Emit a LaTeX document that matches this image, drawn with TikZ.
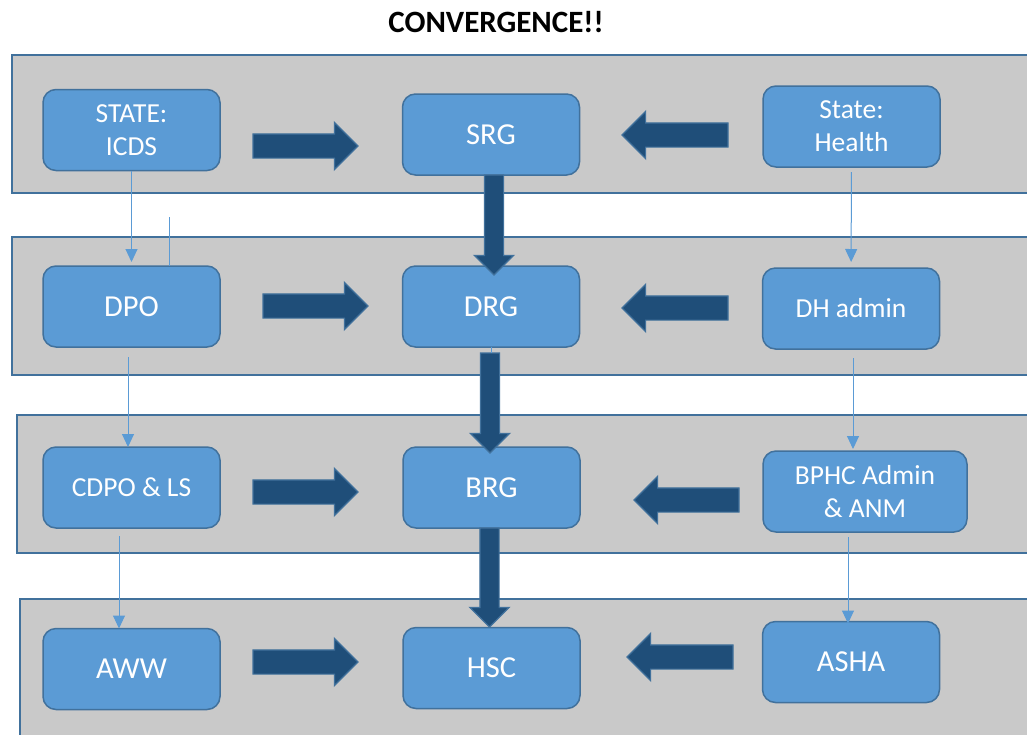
\documentclass[tikz,border=0pt]{standalone}
\usepackage{fontspec}
\setmainfont{Carlito}
\usetikzlibrary{shapes.arrows,arrows.meta}
\definecolor{bandgray}{HTML}{C9C9C9}
\definecolor{boxblue}{HTML}{5B9BD5}
\definecolor{boxedge}{HTML}{41719C}
\definecolor{arrowfill}{HTML}{1F4E79}
\definecolor{arrowedge}{HTML}{41719C}
\definecolor{lineblue}{HTML}{5B9BD5}
\begin{document}
\begin{tikzpicture}[x=1pt,y=-1pt]
	\tikzset{band/.style = {fill=bandgray,draw=boxedge,line width=2pt}}
	\tikzset{unit/.style = {shape=rectangle,rounded corners=13pt,draw=boxedge,line width=1.5pt,fill=boxblue,text=white,minimum width=177pt,minimum height=81pt,inner sep=0pt,outer sep=0pt,align=center,font=\fontsize{27.5}{33}\selectfont}}
	\tikzset{big/.style = {font=\fontsize{30.5}{34}\selectfont}}
	\tikzset{link/.style = {draw=lineblue,line width=1pt,-{Triangle[width=12pt,length=13pt]}}}
	\tikzset{flow/.style = {single arrow,draw=arrowedge,fill=arrowfill,line width=1.2pt,inner sep=11.5pt,minimum width=0pt,single arrow head extend=11.5pt,single arrow head indent=0pt,minimum height=105pt,outer sep=0pt,anchor=tail}}
	\tikzset{flowleft/.style = {flow,shape border rotate=180}}
	\tikzset{flowdown/.style = {flow,shape border rotate=270,inner sep=9pt,single arrow head extend=10pt,minimum height=100pt}}
	\clip (0,0) rectangle (1027,734);
	\fill[white] (0,0) rectangle (1027,734);
	\node[font=\fontsize{31}{36}\selectfont\bfseries] (title) at (496,22) {CONVERGENCE!!};
	% levels
	\draw[band] (12,55) rectangle (1040,193);
	\draw[band] (12,237) rectangle (1040,375);
	\draw[band] (17,415) rectangle (1040,553);
	\draw[band] (20,599) rectangle (1040,760);
	% ICDS side, resource groups, health side
	\node[unit] (icds) at (131.5,130) {STATE:\\ICDS};
	\node[unit,big] (srg) at (491,134.5) {SRG};
	\node[unit] (health) at (851.5,126.5) {State:\\Health};
	\node[unit,big] (dpo) at (131.5,306.5) {DPO};
	\node[unit,big] (drg) at (491,306.5) {DRG};
	\node[unit] (dh) at (851,308.5) {DH admin};
	\node[unit] (cdpo) at (131.5,487.5) {CDPO \& LS};
	\node[unit,big] (brg) at (491.5,487.5) {BRG};
	\node[unit,minimum width=204pt] (bphc) at (865,491.5) {BPHC Admin\\\& ANM};
	\node[unit,big] (aww) at (131.5,669) {AWW};
	\node[unit,big] (hsc) at (491.5,668) {HSC};
	\node[unit,big] (asha) at (851,662) {ASHA};
	% block arrows
	\node[flow] (r1) at (253,146) {};
	\node[flow] (r2) at (263,306) {};
	\node[flow] (r3) at (253,492) {};
	\node[flow] (r4) at (253,662) {};
	\node[flowleft,minimum height=106pt] (l1) at (728,135) {};
	\node[flowleft,minimum height=106pt] (l2) at (728,308) {};
	\node[flowleft] (l3) at (739,500) {};
	\node[flowleft,minimum height=106pt] (l4) at (733,657) {};
	\node[flowdown] (d1) at ([xshift=3pt]srg.south) {};
	\node[flowdown] (d2) at ([yshift=-6pt,xshift=-1pt]drg.south) {};
	\node[flowdown,minimum height=99pt] (d3) at ([xshift=-2pt]brg.south) {};
	\draw[draw=lineblue,line width=1pt] (drg.south) -- (drg.south |- d2.tail);
	% thin links
	\path[link,shorten >=4pt] (icds) -- (dpo);
	\coordinate (stub) at (169,217);
	\draw[draw=lineblue,line width=1pt] (stub) -- (stub |- dpo.north);
	\path[link,shorten <=10pt] ([xshift=-3.5pt]dpo.south) -- ([xshift=-3.5pt]cdpo.north);
	\path[link,shorten <=8pt] ([xshift=-12.5pt]cdpo.south) -- ([xshift=-12.5pt]aww.north);
	\path[link,shorten <=5pt,shorten >=6pt] (health) -- (dh);
	\path[link,shorten <=9pt,shorten >=2pt] ([xshift=2pt]dh.south) -- ([xshift=2pt]dh.south |- bphc.north);
	\path[link,shorten <=5pt,shorten >=-2pt] ([xshift=-3pt]asha.north |- bphc.south) -- ([xshift=-3pt]asha.north);
\end{tikzpicture}
\end{document}
